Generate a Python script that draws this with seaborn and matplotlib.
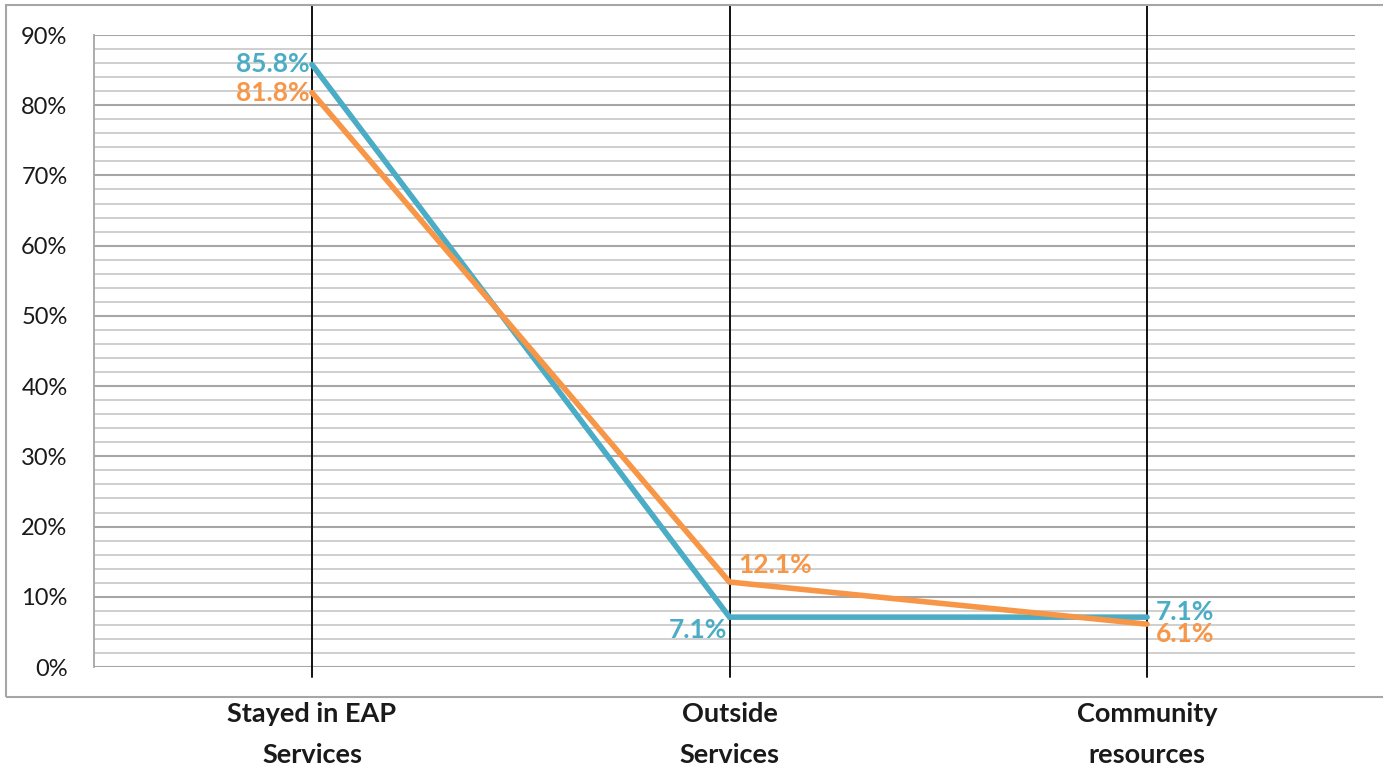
import matplotlib
matplotlib.use("Agg")
import matplotlib.pyplot as plt
import seaborn as sns
import pandas as pd
from matplotlib.patches import Rectangle
from matplotlib.ticker import MultipleLocator, FuncFormatter

categories = ["Stayed in EAP\nServices", "Outside\nServices", "Community\nresources"]
series_names = ["Series 1", "Series 2"]
blue_values = [85.8, 7.1, 7.1]
orange_values = [81.8, 12.1, 6.1]
y_ticks = [0, 10, 20, 30, 40, 50, 60, 70, 80, 90]

BLUE = "#4BACC6"
ORANGE = "#F79646"

sns.set_theme(style="white")
plt.rcParams['font.family'] = ['Lato', 'DejaVu Sans']

df = pd.DataFrame({
    "category": categories * 2,
    "x": list(range(len(categories))) * 2,
    "value": blue_values + orange_values,
    "series": [series_names[0]] * 3 + [series_names[1]] * 3,
})

fig = plt.figure(figsize=(13.83, 7.72), dpi=100)
W, H = 1383, 772
ax = fig.add_axes([94 / W, 1 - 667 / H, (1355 - 94) / W, (667 - 35) / H])

# border around chart area
fig.patches.append(Rectangle((6 / W, 1 - 697 / H), 1.05, (697 - 5) / H,
                             transform=fig.transFigure, fill=False,
                             edgecolor="#A6A6A6", linewidth=1.5, zorder=0))

ax.set_ylim(0, 90)
ax.set_xlim(-0.522, 2.498)

# gridlines
ax.yaxis.set_major_locator(MultipleLocator(10))
ax.yaxis.set_minor_locator(MultipleLocator(2))
ax.grid(which="minor", axis="y", color="#CCCCCC", linewidth=1.3, zorder=0)
ax.grid(which="major", axis="y", color="#A6A6A6", linewidth=1.5, zorder=0)
ax.grid(axis="x", visible=False)
ax.set_axisbelow(True)

for s in ["top", "right", "bottom"]:
    ax.spines[s].set_visible(False)
ax.spines["left"].set_color("#A6A6A6")
ax.spines["left"].set_linewidth(1.3)

# vertical black lines at categories
for i in range(len(categories)):
    ax.axvline(i, ymin=-(677 - 667) / 632, ymax=(667 - 5) / 632,
               color="#111111", linewidth=1.4, clip_on=False, zorder=1)

sns.lineplot(data=df, x="x", y="value", hue="series", palette=[BLUE, ORANGE],
             sort=False, legend=False, linewidth=4, ax=ax, zorder=3,
             solid_capstyle="round", solid_joinstyle="miter")

ax.set_xticks(range(len(categories)))
ax.set_xticklabels(categories, fontsize=19.5, fontweight="bold", color="#1A1A1A",
                   linespacing=1.85)
ax.tick_params(axis="x", length=0, pad=25)
ax.set_yticks(y_ticks)
ax.yaxis.set_major_formatter(FuncFormatter(lambda v, p: f"{int(v)}%"))
ax.tick_params(axis="y", which="major", length=6, width=1.3, color="#A6A6A6",
               labelsize=17, labelcolor="#1A1A1A", pad=13)
ax.tick_params(axis="y", which="minor", length=0)
ax.set_xlabel("")
ax.set_ylabel("")

lab_kw = dict(fontsize=19, fontweight="bold", textcoords="offset points")
# blue labels
ax.annotate(f"{blue_values[0]}%", (0, blue_values[0]), xytext=(-2, 0),
            ha="right", va="center", color=BLUE, **lab_kw)
ax.annotate(f"{blue_values[1]}%", (1, blue_values[1]), xytext=(-2, -9),
            ha="right", va="center", color=BLUE, **lab_kw)
ax.annotate(f"{blue_values[2]}%", (2, blue_values[2]), xytext=(6, 4),
            ha="left", va="center", color=BLUE, **lab_kw)
# orange labels
ax.annotate(f"{orange_values[0]}%", (0, orange_values[0]), xytext=(-2, 0),
            ha="right", va="center", color=ORANGE, **lab_kw)
ax.annotate(f"{orange_values[1]}%", (1, orange_values[1]), xytext=(6, 12),
            ha="left", va="center", color=ORANGE, **lab_kw)
ax.annotate(f"{orange_values[2]}%", (2, orange_values[2]), xytext=(6, -7),
            ha="left", va="center", color=ORANGE, **lab_kw)

fig.savefig("out.png", dpi=100)
